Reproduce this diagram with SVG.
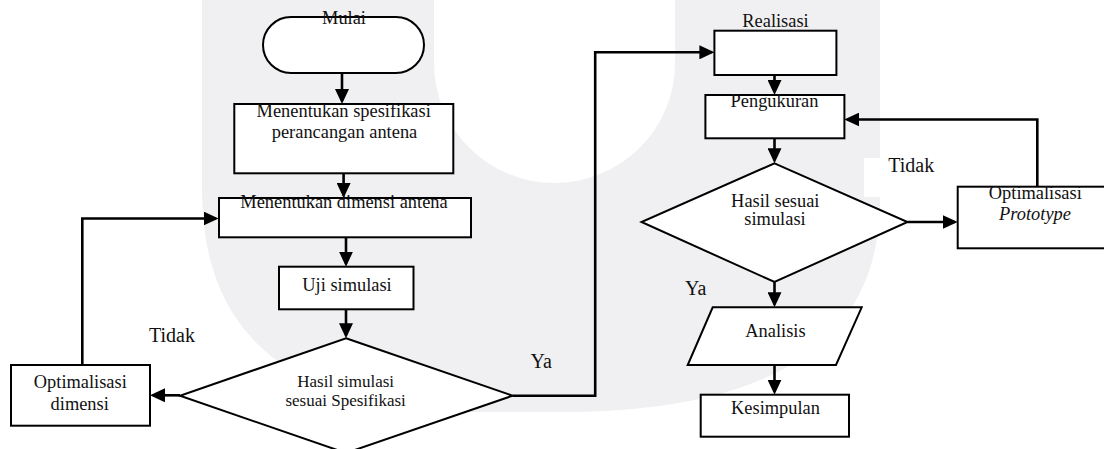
<svg xmlns="http://www.w3.org/2000/svg" width="1104" height="449" viewBox="0 0 1104 449">
<style>
  .bg { fill: #ffffff; }
  .wm { fill: #f0f0f2; fill-rule: evenodd; }
  .box { fill: #ffffff; stroke: #000000; stroke-width: 2; }
  .conn { fill: none; stroke: #000000; stroke-width: 2.6; marker-end: url(#ah); }
  .t { font-family: "Liberation Serif", "Times New Roman", serif; font-size: 18.4px; fill: #111111; text-anchor: middle; }
  .ts { font-size: 17px; }
  .lbl { font-family: "Liberation Serif", "Times New Roman", serif; font-size: 20px; fill: #111111; }
  .it { font-style: italic; }
</style>
<defs>
  <marker id="ah" markerUnits="userSpaceOnUse" markerWidth="16" markerHeight="14" refX="12" refY="7" orient="auto">
    <path d="M0,0 L15,7 L0,14 Z" fill="#000000"/>
  </marker>
</defs>
<rect class="bg" x="0" y="0" width="1104" height="449"/>
<path class="wm" d="M202,0 L202,190 Q202,412 480,412 L560,412 Q880,412 880,200 L880,0 Z M434,0 L434,63 A120.5,120 0 0 0 675,63 L675,0 Z"/>
<rect x="864" y="158" width="94" height="39" fill="#ffffff"/>

<g id="connectors">
  <path class="conn" d="M342,73 V101"/>
  <path class="conn" d="M343.6,173.3 V195"/>
  <path class="conn" d="M346,237.3 V263.7"/>
  <path class="conn" d="M346,309.3 V335.3"/>
  <path class="conn" d="M180,395.3 H153"/>
  <path class="conn" d="M82.3,365 V218.5 H215.6"/>
  <path class="conn" d="M512.6,395.7 H595.2 V52.3 H711.4"/>
  <path class="conn" d="M774.5,75 V92"/>
  <path class="conn" d="M774.5,138.3 V160.3"/>
  <path class="conn" d="M907.5,222 H954.7"/>
  <path class="conn" d="M1037.3,186.7 V119.5 H847.3"/>
  <path class="conn" d="M774.5,282 V304.3"/>
  <path class="conn" d="M774.5,365 V391.7"/>
</g>

<g id="n-mulai">
  <rect class="box" x="263" y="17" width="161" height="56" rx="28" ry="28"/>
  <text class="t" x="344" y="24">Mulai</text>
</g>
<g id="n-spesifikasi">
  <rect class="box" x="234.3" y="104" width="219" height="69.3"/>
  <text class="t" x="343.7" y="116.7">Menentukan spesifikasi</text>
  <text class="t" x="344.5" y="138.3">perancangan antena</text>
</g>
<g id="n-dimensi">
  <rect class="box" x="219" y="198" width="252" height="39.3"/>
  <text class="t" x="344" y="208.3">Menentukan dimensi antena</text>
</g>
<g id="n-uji">
  <rect class="box" x="279" y="266.7" width="134.5" height="42.6"/>
  <text class="t" x="347" y="290.7">Uji simulasi</text>
</g>
<g id="n-keputusan1">
  <polygon class="box" points="346,338.3 512.6,395.7 346,453 180,395.7"/>
  <text class="t ts" x="345.7" y="386.5">Hasil simulasi</text>
  <text class="t ts" x="345.6" y="406">sesuai Spesifikasi</text>
</g>
<g id="n-optdimensi">
  <rect class="box" x="11" y="365" width="139" height="60.7"/>
  <text class="t" x="80.3" y="388.3">Optimalisasi</text>
  <text class="t" x="79.7" y="410">dimensi</text>
</g>
<g id="n-realisasi">
  <rect class="box" x="714.4" y="30.7" width="122" height="44.3"/>
  <text class="t" x="775.5" y="26.7">Realisasi</text>
</g>
<g id="n-pengukuran">
  <rect class="box" x="705.4" y="95" width="139" height="43.3"/>
  <text class="t" x="774.5" y="107.3">Pengukuran</text>
</g>
<g id="n-keputusan2">
  <polygon class="box" points="774.5,163.3 907.5,222 774.5,282 641.5,222"/>
  <text class="t" x="775.3" y="207">Hasil sesuai</text>
  <text class="t" x="775" y="225">simulasi</text>
</g>
<g id="n-optprototype">
  <rect class="box" x="957.7" y="186.7" width="160" height="61.6"/>
  <text class="t" x="1035.3" y="199.3">Optimalisasi</text>
  <text class="t it" x="1035" y="220">Prototype</text>
</g>
<g id="n-analisis">
  <polygon class="box" points="712.7,307.3 861.7,307.3 836,365 687.7,365"/>
  <text class="t" x="775.5" y="336.7">Analisis</text>
</g>
<g id="n-kesimpulan">
  <rect class="box" x="700.7" y="394.7" width="148.3" height="42"/>
  <text class="t" x="775.5" y="414">Kesimpulan</text>
</g>

<g id="labels">
  <text class="lbl" x="149" y="341.7">Tidak</text>
  <text class="lbl" x="530.5" y="368">Ya</text>
  <text class="lbl" x="888.3" y="171.7">Tidak</text>
  <text class="lbl" x="685" y="295">Ya</text>
</g>
</svg>
